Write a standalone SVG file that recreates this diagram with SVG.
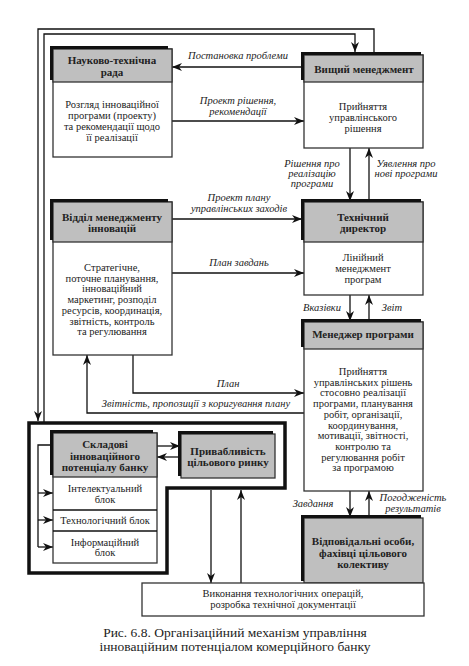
<svg xmlns="http://www.w3.org/2000/svg" width="469" height="666" viewBox="0 0 469 666" font-family="'Liberation Serif', 'Times New Roman', serif">
<style>
.box{fill:#fff;stroke:#333;stroke-width:1.3}
.hdr{fill:#bfbfbf;stroke:#333;stroke-width:1.3}
.sh{fill:none;stroke:#111;stroke-width:3}
.ln{fill:none;stroke:#111;stroke-width:1.3}
.ar{marker-end:url(#a)}
.thick{fill:none;stroke:#111;stroke-width:3.5}
text{font-family:"Liberation Serif","Times New Roman",serif;fill:#222;text-anchor:middle}
.h{font-size:11px;font-weight:bold}
.b{font-size:10.5px}
.l{font-size:10.5px;font-style:italic}
.cap{font-size:13.5px}
</style>
<defs>
<marker id="a" viewBox="0 0 10 8" refX="10" refY="4" markerWidth="10" markerHeight="8" markerUnits="userSpaceOnUse" orient="auto">
<path d="M0,0 L10,4 L0,8 L3,4 z" fill="#111"/>
</marker>
</defs>
<rect width="469" height="666" fill="#fff"/>

<g id="connectors">
<path class="ln ar" d="M374,55 V29 H38 V421"/>
<path class="ln ar" d="M44,423 V34 H355 V52"/>
<path class="ln ar" d="M302,67 H172"/>
<path class="ln ar" d="M172,121 H304"/>
<path class="ln ar" d="M350,148 V201"/>
<path class="ln ar" d="M369,202 V148"/>
<path class="ln ar" d="M172,219 H302"/>
<path class="ln ar" d="M172,273 H304"/>
<path class="ln ar" d="M350,295 V321"/>
<path class="ln ar" d="M369,322 V295"/>
<path class="ln ar" d="M133,355 V393 H304"/>
<path class="ln ar" d="M304,413 H87 V355"/>
<path class="ln ar" d="M350,491 V517"/>
<path class="ln ar" d="M369,518 V491"/>
<path class="ln ar" d="M157,446 H180"/>
<path class="ln ar" d="M181,457 H157"/>
<path class="ln" d="M53,445 H38 V547"/>
<path class="ln ar" d="M38,493 H53"/>
<path class="ln ar" d="M38,520 H53"/>
<path class="ln ar" d="M38,547 H53"/>
<path class="ln ar" d="M211,490 V583"/>
<path class="ln ar" d="M241,583 V490"/>
<g class="l">
<text x="238" y="59">Постановка проблеми</text>
<text x="238" y="104">Проект рішення,</text>
<text x="238" y="115">рекомендації</text>
<text x="312" y="167">Рішення про</text>
<text x="312" y="177">реалізацію</text>
<text x="312" y="187">програми</text>
<text x="406" y="167">Уявлення про</text>
<text x="406" y="177">нові програми</text>
<text x="239" y="201">Проект плану</text>
<text x="239" y="212">управлінських заходів</text>
<text x="239" y="266">План завдань</text>
<text x="322" y="311">Вказівки</text>
<text x="392" y="311">Звіт</text>
<text x="228" y="387">План</text>
<text x="196" y="407">Звітність, пропозиції з коригування плану</text>
<text x="313" y="507">Завдання</text>
<text x="413" y="501">Погодженість</text>
<text x="413" y="512">результатів</text>
</g>
</g>

<g id="frame">
<path class="thick" d="M29,423 H285 V488 H167 V573 H29 Z"/>
</g>

<g id="ntr">
<rect class="box" x="53" y="49" width="119" height="108"/>
<rect class="hdr" x="53" y="49" width="119" height="33"/>
<path class="sh" d="M51.5,80 V47.5 H168"/>
<text class="h" x="112" y="64">Науково-технічна</text>
<text class="h" x="112" y="75.5">рада</text>
<text class="b" x="112" y="108">Розгляд інноваційної</text>
<text class="b" x="112" y="119">програми (проекту)</text>
<text class="b" x="112" y="130">та рекомендації щодо</text>
<text class="b" x="112" y="141">її реалізації</text>
</g>

<g id="vyshchyi">
<rect class="box" x="304" y="55" width="119" height="93"/>
<rect class="hdr" x="304" y="55" width="119" height="27"/>
<path class="sh" d="M302.5,80 V53.5 H421"/>
<text class="h" x="364" y="73">Вищий менеджмент</text>
<text class="b" x="363" y="110">Прийняття</text>
<text class="b" x="363" y="121">управлінського</text>
<text class="b" x="363" y="131.5">рішення</text>
</g>

<g id="viddil">
<rect class="box" x="53" y="202" width="119" height="153"/>
<rect class="hdr" x="53" y="202" width="119" height="40"/>
<path class="sh" d="M51.5,240 V200.5 H168"/>
<text class="h" x="112" y="220.5">Відділ менеджменту</text>
<text class="h" x="112" y="232">інновацій</text>
<text class="b" x="112" y="271">Стратегічне,</text>
<text class="b" x="112" y="281.7">поточне планування,</text>
<text class="b" x="112" y="292.4">інноваційний</text>
<text class="b" x="112" y="303.1">маркетинг, розподіл</text>
<text class="b" x="112" y="313.8">ресурсів, координація,</text>
<text class="b" x="112" y="324.5">звітність, контроль</text>
<text class="b" x="112" y="335.2">та регулювання</text>
</g>

<g id="td">
<rect class="box" x="304" y="202" width="119" height="93"/>
<rect class="hdr" x="304" y="202" width="119" height="40"/>
<path class="sh" d="M302.5,240 V200.5 H421"/>
<text class="h" x="363" y="220.5">Технічний</text>
<text class="h" x="363" y="232">директор</text>
<text class="b" x="363" y="261">Лінійний</text>
<text class="b" x="363" y="272">менеджмент</text>
<text class="b" x="363" y="282.5">програм</text>
</g>

<g id="manager">
<rect class="box" x="304" y="322" width="119" height="169"/>
<rect class="hdr" x="304" y="322" width="119" height="27"/>
<path class="sh" d="M302.5,347 V320.5 H421"/>
<text class="h" x="363" y="338">Менеджер програми</text>
<text class="b" x="363" y="375">Прийняття</text>
<text class="b" x="363" y="385.7">управлінських рішень</text>
<text class="b" x="363" y="396.4">стосовно реалізації</text>
<text class="b" x="363" y="407.1">програми, планування</text>
<text class="b" x="363" y="417.8">робіт, організації,</text>
<text class="b" x="363" y="428.5">координування,</text>
<text class="b" x="363" y="439.2">мотивації, звітності,</text>
<text class="b" x="363" y="449.9">контролю та</text>
<text class="b" x="363" y="460.6">регулювання робіт</text>
<text class="b" x="363" y="471.3">за програмою</text>
</g>

<g id="vidpovidalni">
<rect class="hdr" x="304" y="518" width="119" height="65"/>
<path class="sh" d="M302.5,581 V516.5 H421"/>
<text class="h" x="363" y="545">Відповідальні особи,</text>
<text class="h" x="363" y="556.5">фахівці цільового</text>
<text class="h" x="363" y="568">колективу</text>
</g>

<g id="skladovi">
<rect class="box" x="53" y="433" width="104" height="130"/>
<rect class="hdr" x="53" y="433" width="104" height="44"/>
<path class="sh" d="M51.5,475 V431.5 H153"/>
<line class="ln" x1="53" y1="510" x2="157" y2="510" stroke="#333"/>
<line class="ln" x1="53" y1="531" x2="157" y2="531" stroke="#333"/>
<text class="h" x="105" y="448">Складові</text>
<text class="h" x="105" y="459.5">інноваційного</text>
<text class="h" x="105" y="471">потенціалу банку</text>
<text class="b" x="105" y="492">Інтелектуальний</text>
<text class="b" x="105" y="502.5">блок</text>
<text class="b" x="105" y="524">Технологічний блок</text>
<text class="b" x="105" y="545.5">Інформаційний</text>
<text class="b" x="105" y="556">блок</text>
</g>

<g id="pryvablyvist">
<rect class="hdr" x="181" y="434" width="94" height="44"/>
<path class="sh" d="M179.5,476 V432.5 H273"/>
<text class="h" x="228" y="454.5">Привабливість</text>
<text class="h" x="228" y="466">цільового ринку</text>
</g>

<g id="bottom">
<rect class="box" x="142" y="583" width="282" height="33"/>
<text class="b" x="283" y="597">Виконання технологічних операцій,</text>
<text class="b" x="283" y="608">розробка технічної документації</text>
</g>

<g id="caption">
<text class="cap" x="235" y="637">Рис. 6.8. Організаційний механізм управління</text>
<text class="cap" x="235" y="651">інноваційним потенціалом комерційного банку</text>
</g>
</svg>
